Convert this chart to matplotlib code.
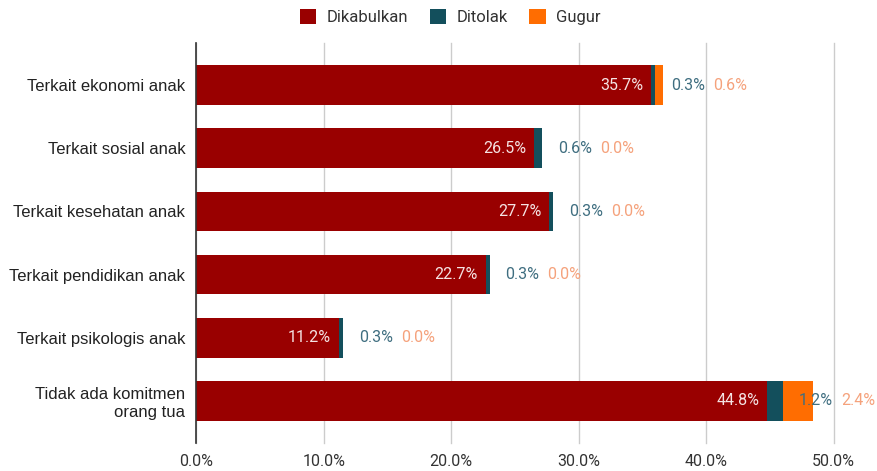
import matplotlib
matplotlib.use("Agg")
import matplotlib.pyplot as plt
from matplotlib.patches import Patch
from matplotlib.ticker import FuncFormatter, MultipleLocator

categories = [
    "Terkait ekonomi anak",
    "Terkait sosial anak",
    "Terkait kesehatan anak",
    "Terkait pendidikan anak",
    "Terkait psikologis anak",
    "Tidak ada komitmen\norang tua",
]
dikabulkan = [35.7, 26.5, 27.7, 22.7, 11.2, 44.8]
ditolak = [0.3, 0.6, 0.3, 0.3, 0.3, 1.2]
gugur = [0.6, 0.0, 0.0, 0.0, 0.0, 2.4]

series_names = ["Dikabulkan", "Ditolak", "Gugur"]
bar_colors = ["#990000", "#134f5c", "#ff6d01"]
label_colors = ["#f5e3e3", "#3f6e80", "#f5a27c"]

W, H, DPI = 877, 471, 100
fig = plt.figure(figsize=(W / DPI, H / DPI), dpi=DPI)
ax = fig.add_axes([196.3 / W, 1 - 443 / H, (833.7 - 196.3) / W, 400 / H])

y = list(range(len(categories)))
bh = 0.63
left2 = [a + b for a, b in zip(dikabulkan, ditolak)]
ax.barh(y, dikabulkan, height=bh, color=bar_colors[0], zorder=2)
ax.barh(y, ditolak, left=dikabulkan, height=bh, color=bar_colors[1], zorder=2)
ax.barh(y, gugur, left=left2, height=bh, color=bar_colors[2], zorder=2)

ax.set_xlim(0, 50)
ax.set_ylim(len(categories) - 1 + 0.67, -0.67)
ax.xaxis.set_major_locator(MultipleLocator(10))
ax.xaxis.set_major_formatter(FuncFormatter(lambda v, p: f"{v:.1f}%"))
ax.grid(axis="x", color="#cccccc", linewidth=1, zorder=0)
for gl in ax.get_xgridlines():
    gl.set_clip_on(False)
ax.set_axisbelow(True)
for s in ["top", "right", "bottom"]:
    ax.spines[s].set_visible(False)
ax.spines["left"].set_color("#333333")
ax.spines["left"].set_linewidth(1.2)
ax.spines["left"].set_zorder(3)
ax.tick_params(axis="both", length=0)
ax.tick_params(axis="x", pad=8, labelsize=11.5, labelcolor="#333333")
ax.tick_params(axis="y", pad=8, labelsize=12, labelcolor="#222222")
ax.set_yticks(y)
ax.set_yticklabels(categories, fontfamily="Liberation Sans")
for t in ax.get_xticklabels():
    t.set_fontfamily("Roboto")

# value labels
for i in y:
    ax.annotate(f"{dikabulkan[i]:.1f}%", xy=(dikabulkan[i], i), xytext=(-8, 0),
                textcoords="offset pixels", ha="right", va="center",
                color=label_colors[0], fontsize=11.5, fontfamily="Roboto", zorder=4)
    t_dit = ax.annotate(f"{ditolak[i]:.1f}%", xy=(left2[i], i), xytext=(16, 0),
                        textcoords="offset pixels", ha="left", va="center",
                        color=label_colors[1], fontsize=11.5, fontfamily="Roboto",
                        zorder=4, annotation_clip=False)
    ax.annotate(f"{gugur[i]:.1f}%", xy=(1, 0.5), xycoords=t_dit, xytext=(8, 0),
                textcoords="offset pixels", ha="left", va="center",
                color=label_colors[2], fontsize=11.5, fontfamily="Roboto",
                zorder=4, annotation_clip=False)

handles = [Patch(facecolor=c, edgecolor="none") for c in bar_colors]
fig.legend(handles, series_names, loc="center", bbox_to_anchor=(450 / W, 1 - 17 / H),
           ncol=3, frameon=False, prop={"family": "Roboto", "size": 12},
           handlelength=1.0, handleheight=1.0, handletextpad=0.6,
           columnspacing=1.3, labelcolor="#333333")

fig.savefig("out.png", dpi=DPI, facecolor="white")
